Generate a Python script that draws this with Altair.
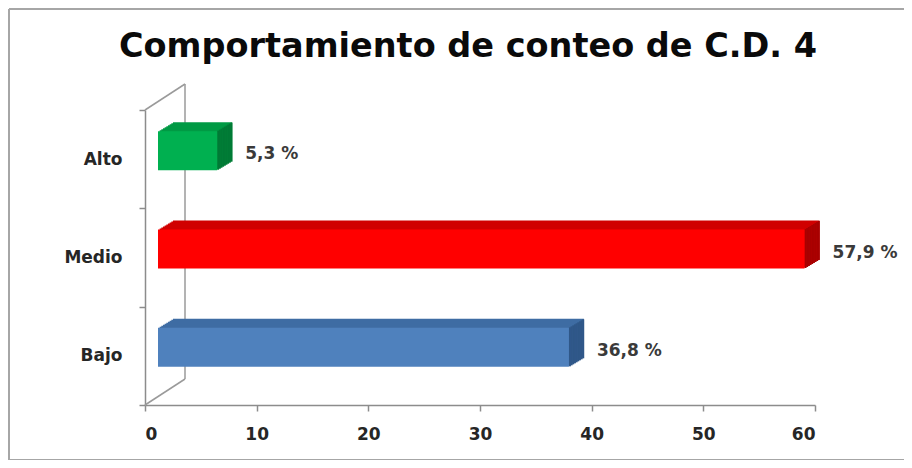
import altair as alt
import pandas as pd

categories = ["Alto", "Medio", "Bajo"]
values = [5.3, 57.9, 36.8]
labels = ["5,3 %", "57,9 %", "36,8 %"]
front_colors = ["#00b050", "#ff0000", "#4f81bd"]
top_colors = ["#009a45", "#d00000", "#3f6ca3"]
side_colors = ["#007a35", "#a80000", "#2f5788"]
x_ticks = [0, 10, 20, 30, 40, 50, 60]
title_text = "Comportamiento de conteo de C.D. 4"

df = pd.DataFrame({
    "cat": categories,
    "value": values,
    "label": labels,
    "front": front_colors,
    "top": top_colors,
    "side": side_colors,
})

W, H = 670, 295
BAR = 39
FX = 13       # front face x shift
BY = -8.5     # front face y shift
N = 9         # depth steps
DX = 15.0 / N # depth x per step (1px y per step)
FONT = "DejaVu Sans"
LBL = "#262626"

xs = alt.Scale(domain=[0, 60], nice=False, zero=True)
ys = alt.Scale(domain=categories, paddingInner=0, paddingOuter=0)

base = alt.Chart(df)
one = alt.Chart(pd.DataFrame({"t": [title_text]}))

# Border of the whole chart (decoration): top, left, bottom edges
border_pts = pd.DataFrame({
    "x": [-136, -136, -136], "x2": [W + 120, -136, W + 120],
    "y": [-101, -101, H + 55], "y2": [-101, H + 55, H + 55],
})
border = alt.Chart(border_pts).mark_rule(color="#a6a6a6", strokeWidth=2).encode(
    x=alt.X("x:Q", scale=None), x2="x2:Q", y=alt.Y("y:Q", scale=None), y2="y2:Q")

# Wall lines (decoration)
wall_pts = pd.DataFrame({
    "x": [0, 0, 40], "y": [0, H, -26], "x2": [40, 40, 40], "y2": [-26, H - 26, H - 26]
})
wall = alt.Chart(wall_pts).mark_rule(color="#9a9a9a", strokeWidth=1.5).encode(
    x=alt.X("x:Q", scale=None), y=alt.Y("y:Q", scale=None),
    x2="x2:Q", y2="y2:Q"
)

title = one.mark_text(font=FONT, fontSize=33.5, fontWeight="bold", color="#0a0a0a",
                      align="center", baseline="alphabetic").encode(
    x=alt.value(W / 2 - 12), y=alt.value(-53), text="t:N")

x_enc = alt.X("value:Q", scale=xs,
              axis=alt.Axis(values=x_ticks, title=None, grid=False, domainColor="#8c8c8c",
                            domainWidth=1.5, tickColor="#8c8c8c", tickWidth=1.5, tickSize=6,
                            labelFont=FONT, labelFontWeight="bold", labelFontSize=17,
                            labelColor=LBL, labelPadding=15))
y_enc = alt.Y("cat:N", scale=ys, sort=categories,
              axis=alt.Axis(title=None, domainColor="#8c8c8c", domainWidth=1.5, tickColor="#8c8c8c",
                            tickWidth=1.5, tickSize=6, tickBand="extent",
                            labelFont=FONT, labelFontWeight="bold", labelFontSize=17,
                            labelColor=LBL, labelPadding=17))

layers = [border, wall, title]

# top face extrusion
for k in range(N, 0, -1):
    layers.append(base.mark_bar(size=BAR, xOffset=FX + k * DX, x2Offset=FX + k * DX,
                                yOffset=BY - k).encode(
        x=alt.X("value:Q", scale=xs), x2=alt.datum(0), y=alt.Y("cat:N", scale=ys, sort=categories),
        color=alt.Color("top:N", scale=None)))

# side face
for k in range(0, N):
    layers.append(base.mark_bar(size=BAR, xOffset=FX + k * DX, x2Offset=FX + (k + 1) * DX + 0.3,
                                yOffset=BY - k - 0.5).encode(
        x=alt.X("value:Q", scale=xs), x2="value:Q", y=alt.Y("cat:N", scale=ys, sort=categories),
        color=alt.Color("side:N", scale=None)))

# front face
front = base.mark_bar(size=BAR, xOffset=FX, x2Offset=FX, yOffset=BY).encode(
    x=x_enc, x2=alt.datum(0), y=y_enc, color=alt.Color("front:N", scale=None))
layers.append(front)

text = base.mark_text(align="left", baseline="middle", dx=41, dy=-5, font=FONT,
                      fontWeight="bold", fontSize=17, color="#3a3a3a").encode(
    x=alt.X("value:Q", scale=xs), y=alt.Y("cat:N", scale=ys, sort=categories), text="label:N")
layers.append(text)

chart = alt.layer(*layers).properties(
    width=W, height=H,
    padding={"left": 137, "top": 102, "right": 89, "bottom": 55},
    autosize=alt.AutoSizeParams(type="none"),
).configure_view(stroke=None)

chart.save("out.html", embed_options={"renderer": "svg", "actions": False})
